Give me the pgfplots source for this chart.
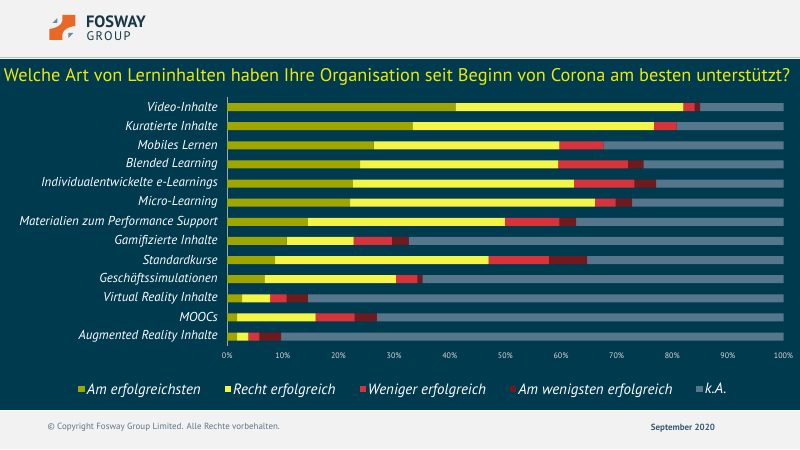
\documentclass[border=0pt]{standalone}
\usepackage{pgfplots}
\pgfplotsset{compat=1.18}
\usepackage{pgfplotstable}
\usepackage{fontspec}
\setmainfont{PT Sans}
\definecolor{hdr}{RGB}{242,242,242}
\definecolor{panel}{RGB}{0,58,79}
\definecolor{cOlive}{RGB}{160,166,0}
\definecolor{cYellow}{RGB}{245,245,72}
\definecolor{cRed}{RGB}{214,52,58}
\definecolor{cDark}{RGB}{110,26,30}
\definecolor{cGray}{RGB}{86,118,140}
\definecolor{titleY}{RGB}{235,235,10}
\definecolor{logoDark}{RGB}{24,55,70}
\definecolor{logoOr}{RGB}{232,104,40}
\definecolor{logoGr}{RGB}{110,140,160}
\definecolor{footG}{RGB}{95,115,135}
\definecolor{footB}{RGB}{60,90,115}
\pgfplotstableread{
y a b c d e
0 41.0 41.0 2.0 1.0 15.0
1 33.3 43.4 4.1 0.0 19.2
2 26.3 33.4 7.9 0.0 32.4
3 23.9 35.6 12.5 2.8 25.2
4 22.6 39.7 10.9 3.9 22.9
5 22.1 44.0 3.7 3.0 27.2
6 14.5 35.4 9.8 3.0 37.3
7 10.7 12.0 6.9 3.0 67.4
8 8.6 38.4 10.8 6.9 35.3
9 6.7 23.6 3.9 0.9 64.9
10 2.7 5.0 3.0 3.8 85.5
11 1.8 14.1 7.0 4.0 73.1
12 1.8 2.0 2.0 3.9 90.3
}\datatable
\begin{document}
\begin{tikzpicture}[x=1bp,y=1bp]
% backgrounds
\fill[hdr] (0,0) rectangle (800,450);
\fill[panel] (0,450-59) rectangle (800,450-411);
\draw[black!25, line width=1bp] (0,450-58) -- (800,450-58);
\draw[white, line width=1bp] (0,450-411.5) -- (800,450-411.5);
% logo
\fill[logoOr] (62,450-15) -- (75,450-15) -- (75,450-26)
  .. controls (67,450-27) and (63,450-30) .. (62,450-34) -- (62,450-40) -- (49,450-40) -- (49,450-29)
  .. controls (57,450-28) and (61,450-25) .. (62,450-21) -- cycle;
\fill[logoGr] (52,450-23) -- (57,450-18) -- (57,450-23) -- cycle;
\fill[logoGr] (68,450-33) -- (73,450-33) -- (68,450-38) -- cycle;
\node[anchor=base west, inner sep=0, text=logoDark, font=\bfseries\fontsize{16.5}{17}\selectfont] at (85.5,450-27.5) {FOSWAY};
\node[anchor=base west, inner sep=0, text=logoDark, font=\fontsize{12.5}{13}\selectfont\addfontfeatures{LetterSpace=12}] at (86,450-41) {GROUP};
% title
\node[anchor=base, inner sep=0, text=titleY, font=\fontsize{18.4}{20}\selectfont] at (397,450-82) {Welche Art von Lerninhalten haben Ihre Organisation seit Beginn von Corona am besten unterstützt?};
% footer
\node[anchor=base west, inner sep=0, text=footG, font=\fontsize{9}{10}\selectfont] at (47,450-430) {© Copyright Fosway Group Limited. Alle Rechte vorbehalten.};
\node[anchor=base west, inner sep=0, text=footB, font=\bfseries\fontsize{9}{10}\selectfont] at (651,450-431) {September 2020};
\begin{axis}[
  at={(227bp,103.4bp)}, anchor=south west,
  scale only axis, width=557bp, height=249bp,
  xbar stacked, bar width=8bp,
  xmin=0, xmax=100, ymin=-0.5, ymax=12.5, y dir=reverse,
  ytick={0,...,12},
  yticklabels={Video-Inhalte,Kuratierte Inhalte,Mobiles Lernen,Blended Learning,Individualentwickelte e-Learnings,Micro-Learning,Materialien zum Performance Support\hspace{4bp},Gamifizierte Inhalte\hspace{4bp},Standardkurse,Geschäftssimulationen,Virtual Reality Inhalte,MOOCs,Augmented Reality Inhalte},
  xtick={0,10,...,100},
  xticklabel={\pgfmathprintnumber{\tick}\%},
  major tick length=0pt,
  separate axis lines,
  axis x line*=bottom, axis y line*=left,
  x axis line style={draw=none},
  y axis line style={draw=black!35!white, line width=1bp},
  yticklabel style={font=\itshape\fontsize{13}{14}\selectfont, text=white, xshift=-6bp},
  xticklabel style={font=\fontsize{8}{9}\selectfont, text=white!85!black, yshift=-3bp},
  /pgf/number format/assume math mode=true,
  every axis plot/.append style={draw=none},
  legend style={at={(0.317,-0.174)}, anchor=center, draw=none, fill=none,
    text=white, font=\itshape\fontsize{15}{16}\selectfont, legend columns=5,
    /tikz/every even column/.append style={column sep=22bp}},
  legend image code/.code={\fill[#1] (0bp,-3bp) rectangle (6.5bp,3.5bp);},
]
\addplot[fill=cOlive] table[x=a,y=y]{\datatable};
\addplot[fill=cYellow] table[x=b,y=y]{\datatable};
\addplot[fill=cRed] table[x=c,y=y]{\datatable};
\addplot[fill=cDark] table[x=d,y=y]{\datatable};
\addplot[fill=cGray] table[x=e,y=y]{\datatable};
\legend{Am erfolgreichsten,Recht erfolgreich,Weniger erfolgreich,Am wenigsten erfolgreich,k.A.}
\end{axis}
\end{tikzpicture}
\end{document}
